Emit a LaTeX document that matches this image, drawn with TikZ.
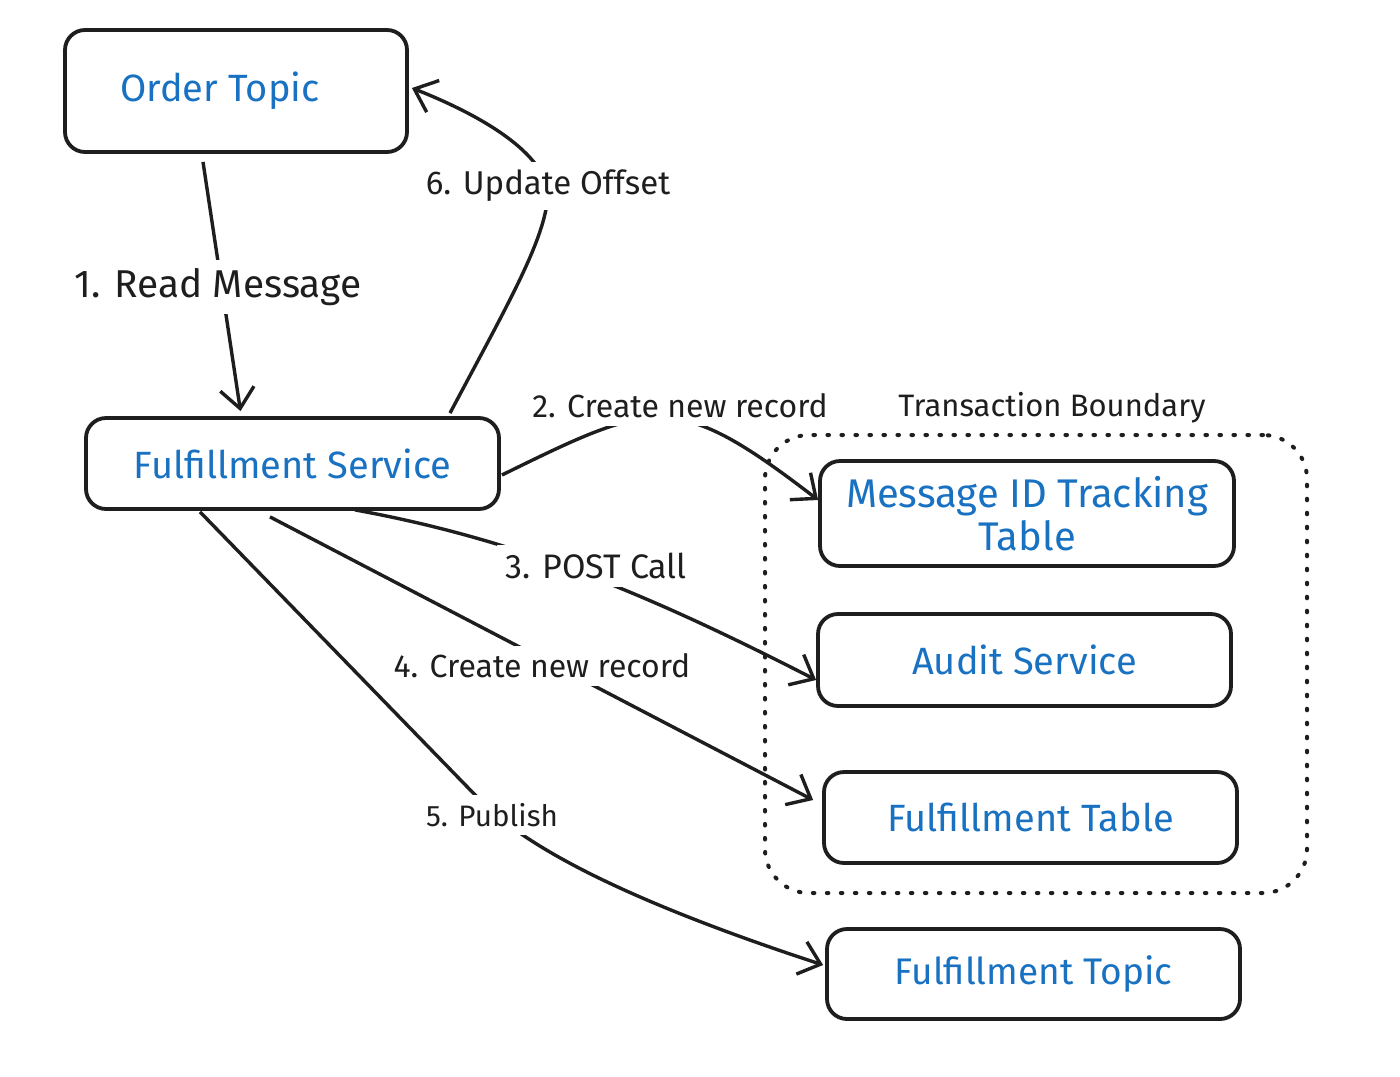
\documentclass[tikz,border=0pt]{standalone}
\usepackage{fontspec}
\setmainfont{Fira Sans}
\usetikzlibrary{arrows.meta,calc}
\definecolor{exblue}{HTML}{1971C2}
\definecolor{exblack}{HTML}{1E1E1E}
\begin{document}
\begin{tikzpicture}[x=0.5pt,y=-0.5pt,
  box/.style={draw=exblack,line width=1.9pt,rounded corners=10pt,text=exblue,
    font=\fontsize{19}{22}\selectfont,align=center,inner sep=0pt},
  conn/.style={draw=exblack,line width=1.7pt,
    -{Straight Barb[length=10pt,width=17pt,line width=1.7pt]}},
  lbl/.style={fill=white,text=exblack,font=\fontsize{16}{19}\selectfont,inner sep=4pt},
  boundary/.style={draw=exblack,line width=2pt,dash pattern=on 0.8pt off 6.2pt,
    line cap=round,rounded corners=22pt}]
\useasboundingbox (0,0) rectangle (1400,1076);
\fill[white] (0,0) rectangle (1400,1076);

% boundary
\node[boundary,minimum width=271pt,minimum height=229pt] (tb) at (1036,664) {};

% boxes
\node[box,minimum width=171pt,minimum height=61pt] (ot) at (236,91) {Order Topic\hspace{16pt}};
\node[box,minimum width=206.5pt,minimum height=45.5pt] (fs) at (292.5,463.5) {Fulfillment Service};
\node[box,minimum width=207pt,minimum height=52.5pt,font=\fontsize{20}{21.5}\selectfont] (mid) at (1027,513.5) {Message ID Tracking\\Table};
\node[box,minimum width=206.5pt,minimum height=46pt] (au) at (1024.5,660) {Audit Service};
\node[box,minimum width=206.5pt,minimum height=45.5pt] (ftab) at (1030.5,817.5) {Fulfillment Table};
\node[box,minimum width=206.5pt,minimum height=45pt,font=\fontsize{18.5}{22}\selectfont] (ftop) at (1033.5,974) {Fulfillment Topic};

% connectors
\draw[conn] ($(ot.south)+(-33,8)$) -- ($(fs.north)+(-52,-5)$);
\draw[conn] ($(fs.north)+(157.5,-3)$) .. controls (510,300) and (548,235) .. (548,190)
  .. controls (540,150) and (480,115) .. ($(ot.east)+(3,-3)$);
\draw[conn] ($(fs.east)+(1,11.5)$) .. controls (655,400) and (675,390) .. ($(mid.west)+(0,-13.5)$);
\draw[conn] ($(fs.south)+(62.5,-1)$) .. controls (520,540) and (650,595) .. ($(au.west)+(0,20)$);
\draw[conn] ($(fs.south)+(-22.5,6)$) -- ($(ftab.west)+(-9,-17.5)$);
\draw[conn] ($(fs.south)+(-92.5,1)$) -- (480,800) .. controls (540,862) and (680,918) .. ($(ftop.west)+(-2,-9)$);

% labels
\node[lbl,font=\fontsize{19.4}{22}\selectfont] (l1) at (218,287) {1. Read Message};
\node[lbl,font=\fontsize{16.5}{19}\selectfont] (l6) at (548,186) {6. Update Offset};
\node[lbl] (l2) at (680,406) {2. Create new record};
\node[lbl,font=\fontsize{17}{19}\selectfont] (l3) at (596,566) {3. POST Call};
\node[lbl] (l4) at (542,666) {4. Create new record};
\node[lbl,font=\fontsize{14.8}{18}\selectfont] (l5) at (492,815) {5. Publish};
\node[lbl,font=\fontsize{15.5}{18}\selectfont] (tbl) at (1052,408) {Transaction Boundary};
\end{tikzpicture}
\end{document}
